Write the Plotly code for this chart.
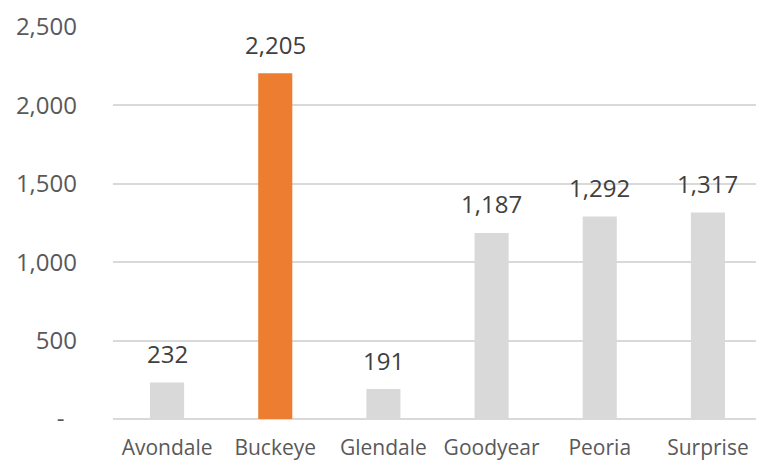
import plotly.graph_objects as go

cities = ["Avondale", "Buckeye", "Glendale", "Goodyear", "Peoria", "Surprise"]
values = [232, 2205, 191, 1187, 1292, 1317]
bar_colors = ["#D9D9D9", "#ED7D31", "#D9D9D9", "#D9D9D9", "#D9D9D9", "#D9D9D9"]
y_tickvals = [0, 500, 1000, 1500, 2000, 2500]
y_ticktext = ["-\u00a0\u00a0", "500", "1,000", "1,500", "2,000", "2,500"]

FONT = "Open Sans, Segoe UI, sans-serif"

fig = go.Figure(go.Bar(x=cities, y=values, marker=dict(color=bar_colors, line=dict(width=0)),
                       hoverinfo="x+y"))

for c, v in zip(cities, values):
    fig.add_annotation(x=c, y=v, text=f"{v:,}", showarrow=False, yanchor="middle",
                       yshift=29, font=dict(family=FONT, size=24, color="#404040"))

# page body has an 8px margin, so the figure is sized to fit the 764x472 window
fig.update_layout(
    width=756, height=456,
    margin=dict(l=105, r=2, t=19, b=45),
    paper_bgcolor="white", plot_bgcolor="white",
    bargap=0.685,
    showlegend=False,
    font=dict(family=FONT),
)
fig.update_xaxes(
    automargin=False,
    showgrid=False, showline=False, zeroline=False,
    tickfont=dict(family=FONT, size=21, color="#595959"),
    ticks="", ticklabelstandoff=14,
)
fig.update_yaxes(
    automargin=False,
    range=[0, 2500], tickvals=y_tickvals, ticktext=y_ticktext,
    showgrid=True, gridcolor="#D9D9D9", gridwidth=1.5,
    zeroline=True, zerolinecolor="#D9D9D9", zerolinewidth=1.5,
    showline=False, ticks="",
    tickfont=dict(family=FONT, size=24, color="#595959"),
    ticklabelstandoff=35,
)

fig.write_html("out.html")
